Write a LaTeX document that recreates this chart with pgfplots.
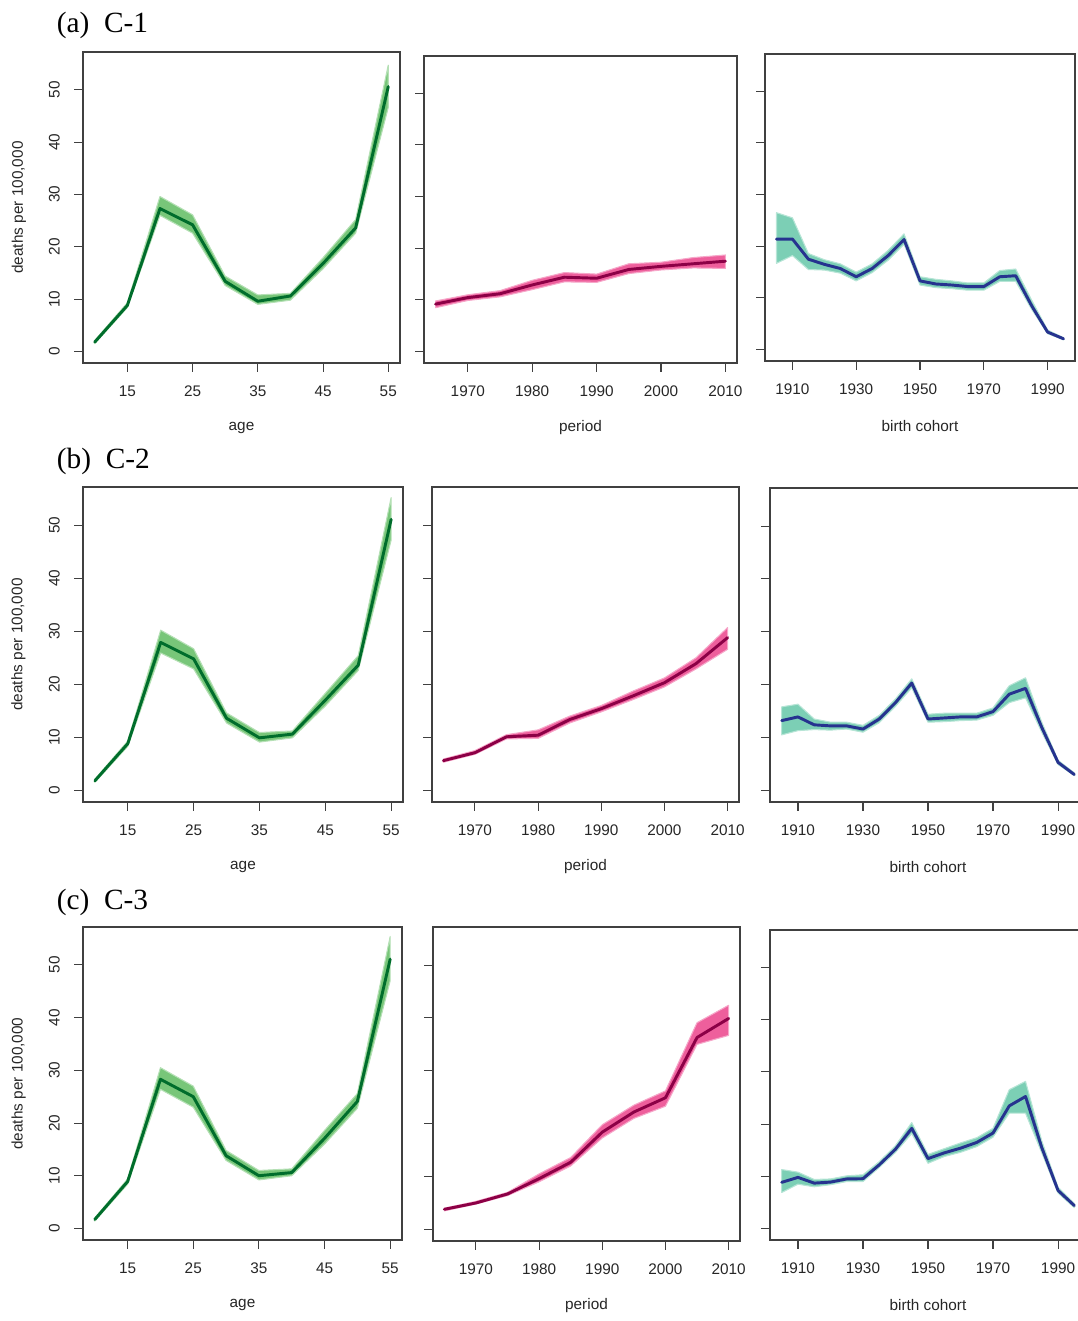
\documentclass[border=0pt]{standalone}
\usepackage{pgfplots}
\pgfplotsset{compat=1.18}
\usepackage{fontspec}
\setmainfont{Liberation Sans}
\newfontfamily\titlefont{Liberation Serif}
\definecolor{agebd}{HTML}{78C679}
\definecolor{agemn}{HTML}{006D2C}
\definecolor{perbd}{HTML}{EE5F9C}
\definecolor{permn}{HTML}{8C0046}
\definecolor{cohbd}{HTML}{7CCFB5}
\definecolor{cohmn}{HTML}{26338F}
\definecolor{axc}{HTML}{404040}
\newcommand\lab{\fontsize{11.5}{13}\selectfont}
\newcommand\ttl{\titlefont\fontsize{22}{26}\selectfont}

\pgfplotsset{
  rbase/.style={
    scale only axis, clip=true,
    axis line style={draw=axc, line width=0.8pt},
    every tick/.style={draw=axc, line width=0.8pt},
    tick align=outside, major tick length=6.5pt, tick pos=left,
    ymin=-2.2, ymax=57.2, ytick={0,10,20,30,40,50},
    /pgf/number format/1000 sep={},
    /pgf/number format/assume math mode=true,
    tick label style={font=\lab, text=black!85},
    xticklabel style={anchor=center, yshift=-15pt},
    every axis x label/.style={at={(axis description cs:0.5,0)}, anchor=center, yshift=-48.75pt, font=\lab, text=black!85},
  },
  nolab/.style={yticklabels={}},
  withlab/.style={
    yticklabel style={anchor=center, xshift=-15pt, rotate=90},
    every axis y label/.style={at={(axis description cs:-0.202,0.5)}, anchor=center, rotate=90, font=\lab, text=black!85},
    ylabel={deaths per 100,000},
  },
  agep/.style={rbase, withlab, xmin=8.2, xmax=56.8, xtick={15,25,35,45,55}, xlabel={age}},
  perp/.style={rbase, nolab, xmin=1963.2, xmax=2011.8, xtick={1970,1980,1990,2000,2010}, xlabel={period}},
  cohp/.style={rbase, nolab, xmin=1901.4, xmax=1998.6, xtick={1910,1930,1950,1970,1990}, xlabel={birth cohort}},
  band/.style={draw=#1!55!white, line width=0.8pt, fill=#1, line join=round},
  mean/.style={draw=#1, line width=2.2pt, line join=round, line cap=round},
}

\begin{document}
\begin{tikzpicture}
\useasboundingbox (0pt,0pt) rectangle (808.5pt,-990.75pt);

% titles
\node[anchor=base west, font=\ttl, inner sep=0pt] at (42.5pt,-24pt) {(a)\enspace C-1};
\node[anchor=base west, font=\ttl, inner sep=0pt] at (42.5pt,-351pt) {(b)\enspace C-2};
\node[anchor=base west, font=\ttl, inner sep=0pt] at (42.5pt,-681.75pt) {(c)\enspace C-3};

%================ ROW 1 ================
\begin{axis}[agep, at={(62.25pt,-272.25pt)}, anchor=south west, width=237.75pt, height=233.25pt]
\addplot[band=agebd] coordinates {(10,2.1) (15,9.3) (20,29.6) (25,26.1) (30,14.4) (35,10.8) (40,11.1) (45,17.9) (50,25.2) (55,54.7)
 (55,46.6) (50,22.6) (45,15.8) (40,9.8) (35,9.0) (30,12.6) (25,22.6) (20,26.0) (15,8.4) (10,1.5)} -- cycle;
\addplot[mean=agemn] coordinates {(10,1.8) (15,8.8) (20,27.3) (25,24.2) (30,13.4) (35,9.6) (40,10.6) (45,16.8) (50,23.6) (55,50.6)};
\end{axis}

\begin{axis}[perp, at={(318pt,-272.25pt)}, anchor=south west, width=234.75pt, height=230.25pt]
\addplot[band=perbd] coordinates {(1965,9.8) (1970,11.0) (1975,11.8) (1980,13.8) (1985,15.3) (1990,15.0) (1995,17.0) (2000,17.3) (2005,18.2) (2010,18.7)
 (2010,16.1) (2005,16.2) (2000,15.8) (1995,15.1) (1990,13.4) (1985,13.5) (1980,12.0) (1975,10.6) (1970,9.9) (1965,8.5)} -- cycle;
\addplot[mean=permn] coordinates {(1965,9.2) (1970,10.45) (1975,11.2) (1980,12.9) (1985,14.4) (1990,14.2) (1995,15.9) (2000,16.5) (2005,17.0) (2010,17.5)};
\end{axis}

\begin{axis}[cohp, at={(573.75pt,-270.75pt)}, anchor=south west, width=232.5pt, height=230.25pt]
\addplot[band=cohbd] coordinates {(1905,26.5) (1910,25.5) (1915,18.6) (1920,17.4) (1925,16.6) (1930,15.0) (1935,16.6) (1940,19.2) (1945,22.4) (1950,14.1) (1955,13.6) (1960,13.3) (1965,12.9) (1970,12.9) (1975,15.3) (1980,15.6) (1985,9.6) (1990,3.8) (1995,2.3)
 (1995,1.9) (1990,3.1) (1985,7.8) (1980,13.2) (1975,13.2) (1970,11.5) (1965,11.5) (1960,11.8) (1955,12.0) (1950,12.5) (1945,20.4) (1940,17.3) (1935,14.9) (1930,13.3) (1925,14.8) (1920,15.4) (1915,15.5) (1910,18.2) (1905,16.7)} -- cycle;
\addplot[mean=cohmn] coordinates {(1905,21.4) (1910,21.4) (1915,17.5) (1920,16.5) (1925,15.7) (1930,14.1) (1935,15.7) (1940,18.2) (1945,21.3) (1950,13.3) (1955,12.7) (1960,12.5) (1965,12.2) (1970,12.2) (1975,14.1) (1980,14.3) (1985,8.5) (1990,3.4) (1995,2.1)};
\end{axis}

%================ ROW 2 ================
\begin{axis}[agep, at={(62.25pt,-601.5pt)}, anchor=south west, width=240pt, height=236.25pt]
\addplot[band=agebd] coordinates {(10,2.1) (15,9.3) (20,30.2) (25,26.7) (30,14.6) (35,10.9) (40,11.2) (45,18.3) (50,25.4) (55,55.2)
 (55,47.2) (50,22.6) (45,15.9) (40,9.9) (35,9.1) (30,12.7) (25,22.9) (20,25.9) (15,8.3) (10,1.5)} -- cycle;
\addplot[mean=agemn] coordinates {(10,1.8) (15,8.8) (20,27.9) (25,24.8) (30,13.6) (35,9.9) (40,10.6) (45,17.0) (50,23.6) (55,51.1)};
\end{axis}

\begin{axis}[perp, at={(324pt,-601.5pt)}, anchor=south west, width=230.25pt, height=236.25pt]
\addplot[band=perbd] coordinates {(1965,5.9) (1970,7.5) (1975,10.5) (1980,11.4) (1985,14.0) (1990,16.0) (1995,18.7) (2000,21.2) (2005,25.0) (2010,30.7)
 (2010,26.6) (2005,22.9) (2000,19.5) (1995,17.1) (1990,14.8) (1985,12.7) (1980,9.8) (1975,9.7) (1970,6.8) (1965,5.3)} -- cycle;
\addplot[mean=permn] coordinates {(1965,5.6) (1970,7.1) (1975,10.1) (1980,10.4) (1985,13.35) (1990,15.4) (1995,17.8) (2000,20.3) (2005,23.9) (2010,28.8)};
\end{axis}

\begin{axis}[cohp, at={(577.5pt,-601.5pt)}, anchor=south west, width=237pt, height=235.5pt]
\addplot[band=cohbd] coordinates {(1905,15.8) (1910,16.3) (1915,13.5) (1920,12.9) (1925,12.9) (1930,12.3) (1935,14.2) (1940,17.3) (1945,21.1) (1950,14.4) (1955,14.6) (1960,14.6) (1965,14.6) (1970,15.6) (1975,19.8) (1980,21.3) (1985,12.9) (1990,5.7) (1995,3.3)
 (1995,2.8) (1990,4.9) (1985,11.0) (1980,17.5) (1975,16.6) (1970,14.2) (1965,13.3) (1960,13.2) (1955,13.0) (1950,12.9) (1945,19.4) (1940,15.9) (1935,12.8) (1930,11.0) (1925,11.6) (1920,11.4) (1915,11.5) (1910,11.3) (1905,10.5)} -- cycle;
\addplot[mean=cohmn] coordinates {(1905,13.2) (1910,13.9) (1915,12.4) (1920,12.2) (1925,12.2) (1930,11.6) (1935,13.5) (1940,16.6) (1945,20.3) (1950,13.5) (1955,13.7) (1960,13.9) (1965,13.9) (1970,14.9) (1975,18.2) (1980,19.3) (1985,11.9) (1990,5.3) (1995,3.0)};
\end{axis}

%================ ROW 3 ================
\begin{axis}[agep, at={(62.25pt,-930pt)}, anchor=south west, width=239.25pt, height=234.75pt]
\addplot[band=agebd] coordinates {(10,2.0) (15,9.4) (20,30.5) (25,27.0) (30,14.8) (35,11.0) (40,11.3) (45,18.6) (50,25.6) (55,55.4)
 (55,47.0) (50,22.8) (45,16.0) (40,10.0) (35,9.2) (30,12.9) (25,23.0) (20,26.4) (15,8.4) (10,1.4)} -- cycle;
\addplot[mean=agemn] coordinates {(10,1.7) (15,8.9) (20,28.3) (25,25.0) (30,13.8) (35,10.0) (40,10.6) (45,17.1) (50,24.1) (55,51.1)};
\end{axis}

\begin{axis}[perp, at={(324.75pt,-930.75pt)}, anchor=south west, width=230.25pt, height=235.5pt]
\addplot[band=perbd] coordinates {(1965,4.0) (1970,5.3) (1975,7.0) (1980,10.5) (1985,13.6) (1990,19.8) (1995,23.5) (2000,26.2) (2005,39.1) (2010,42.4)
 (2010,36.7) (2005,35.0) (2000,23.3) (1995,21.0) (1990,17.3) (1985,12.0) (1980,9.0) (1975,6.4) (1970,4.8) (1965,3.5)} -- cycle;
\addplot[mean=permn] coordinates {(1965,3.8) (1970,5.0) (1975,6.7) (1980,9.6) (1985,12.7) (1990,18.4) (1995,22.2) (2000,24.9) (2005,36.3) (2010,39.9)};
\end{axis}

\begin{axis}[cohp, at={(577.5pt,-930pt)}, anchor=south west, width=237pt, height=232.5pt]
\addplot[band=cohbd] coordinates {(1905,11.3) (1910,10.8) (1915,9.4) (1920,9.5) (1925,10.1) (1930,10.3) (1935,12.8) (1940,15.9) (1945,20.3) (1950,14.2) (1955,15.3) (1960,16.4) (1965,17.4) (1970,19.2) (1975,26.6) (1980,28.2) (1985,16.8) (1990,7.9) (1995,4.8)
 (1995,4.0) (1990,6.8) (1985,14.5) (1980,22.1) (1975,22.1) (1970,17.5) (1965,15.7) (1960,14.6) (1955,13.8) (1950,12.5) (1945,18.2) (1940,14.6) (1935,11.7) (1930,9.0) (1925,9.0) (1920,8.4) (1915,8.0) (1910,8.5) (1905,6.9)} -- cycle;
\addplot[mean=cohmn] coordinates {(1905,8.85) (1910,9.8) (1915,8.7) (1920,8.9) (1925,9.5) (1930,9.55) (1935,12.2) (1940,15.2) (1945,19.2) (1950,13.4) (1955,14.5) (1960,15.4) (1965,16.5) (1970,18.3) (1975,23.5) (1980,25.3) (1985,15.5) (1990,7.3) (1995,4.4)};
\end{axis}
\end{tikzpicture}
\end{document}
